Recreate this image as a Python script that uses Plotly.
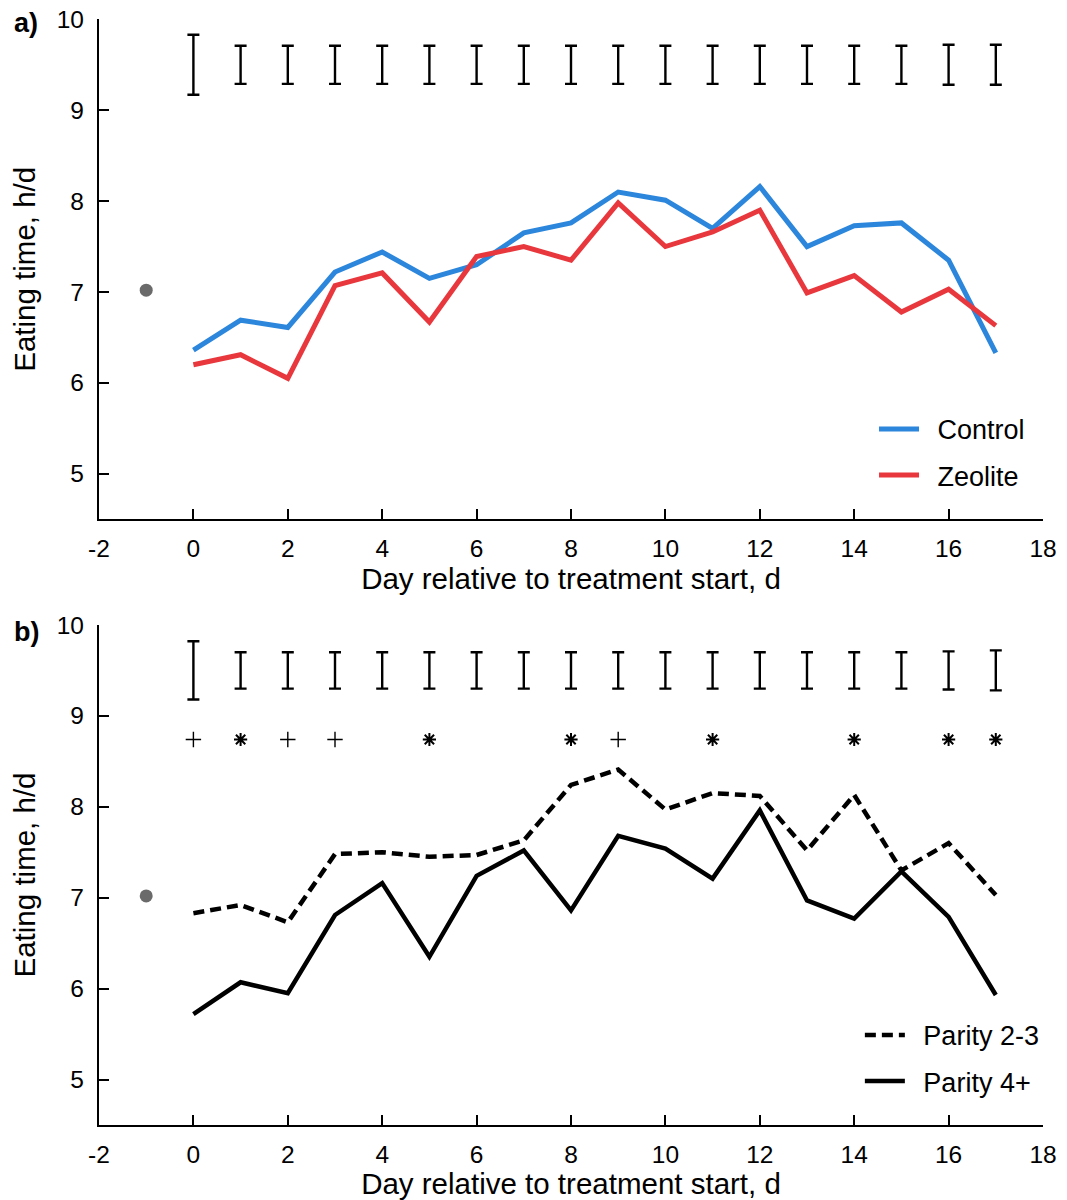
import plotly.graph_objects as go

# ---- data -------------------------------------------------------------
days = list(range(0, 18))

# panel a: treatment means (h/d)
control = [6.36, 6.69, 6.61, 7.22, 7.44, 7.15, 7.30, 7.65, 7.76, 8.10,
           8.01, 7.70, 8.16, 7.50, 7.73, 7.76, 7.35, 6.33]
zeolite = [6.20, 6.31, 6.05, 7.07, 7.21, 6.67, 7.39, 7.50, 7.35, 7.98,
           7.50, 7.66, 7.90, 6.99, 7.18, 6.78, 7.03, 6.63]

# panel b: parity group means (h/d)
parity_23 = [6.83, 6.92, 6.73, 7.48, 7.50, 7.45, 7.47, 7.63, 8.24, 8.41,
             7.97, 8.15, 8.12, 7.52, 8.13, 7.30, 7.60, 7.03]
parity_4p = [5.72, 6.07, 5.95, 6.81, 7.16, 6.35, 7.24, 7.52, 6.86, 7.68,
             7.54, 7.21, 7.96, 6.97, 6.77, 7.29, 6.79, 5.93]

# baseline (day -1) covariate mean
baseline_day = [-1]
baseline_val = [7.02]

# SEM bars drawn at a common reference height
sem_center = 9.5
sem_a = [0.33, 0.21, 0.21, 0.21, 0.21, 0.21, 0.21, 0.21, 0.21, 0.21,
         0.21, 0.21, 0.21, 0.21, 0.21, 0.21, 0.22, 0.22]
sem_b = [0.32, 0.20, 0.20, 0.20, 0.20, 0.20, 0.20, 0.20, 0.20, 0.20,
         0.20, 0.20, 0.20, 0.20, 0.20, 0.20, 0.21, 0.22]

# parity differences: * P < 0.05, + P < 0.10
sig_level = 8.74
sig_star_days = [1, 5, 8, 11, 14, 16, 17]
sig_trend_days = [0, 2, 3, 9]

x_ticks = list(range(-2, 19, 2))
x_tick_text = ["-2", "0", "2", "4", "6", "8", "10", "12", "14", "16", "18"]
y_ticks = [5, 6, 7, 8, 9, 10]

# ---- styling ----------------------------------------------------------
FONT = "Liberation Sans, Arial, sans-serif"
BLUE = "#2b86dc"
RED = "#e8383d"
GREY = "#6a6a6a"
SP = "\u2002"  # spacing between legend sample and label

fig = go.Figure()

def add_panel(xa, ya, legend, series, sem):
    for name, vals, color, dash, width in series:
        fig.add_trace(go.Scatter(
            x=days, y=vals, mode="lines", name=SP + name,
            line=dict(color=color, width=width, dash=dash),
            xaxis=xa, yaxis=ya, legend=legend, legendgroup=name,
        ))
    fig.add_trace(go.Scatter(
        x=baseline_day, y=baseline_val, mode="markers",
        marker=dict(color=GREY, size=13), showlegend=False,
        xaxis=xa, yaxis=ya,
    ))
    fig.add_trace(go.Scatter(
        x=days, y=[sem_center] * len(days), mode="markers",
        marker=dict(size=1, color="rgba(0,0,0,0)"),
        error_y=dict(type="data", array=sem, visible=True,
                     color="black", thickness=2.4, width=6),
        showlegend=False, xaxis=xa, yaxis=ya,
    ))

add_panel("x", "y", "legend",
          [("Control", control, BLUE, "solid", 5),
           ("Zeolite", zeolite, RED, "solid", 5)], sem_a)
add_panel("x2", "y2", "legend2",
          [("Parity 2-3", parity_23, "black", "11px,6px", 4.5),
           ("Parity 4+", parity_4p, "black", "solid", 4.5)], sem_b)

# significance marks in panel b
fig.add_trace(go.Scatter(
    x=sig_star_days, y=[sig_level] * len(sig_star_days), mode="markers",
    marker=dict(symbol="asterisk-open", size=11, color="black",
                line=dict(color="black", width=2)),
    showlegend=False, xaxis="x2", yaxis="y2",
))
fig.add_trace(go.Scatter(
    x=sig_trend_days, y=[sig_level] * len(sig_trend_days), mode="markers",
    marker=dict(symbol="cross-thin-open", size=11, color="black",
                line=dict(color="black", width=1.4)),
    showlegend=False, xaxis="x2", yaxis="y2",
))

axis_common = dict(
    showline=True, linecolor="black", linewidth=2.4,
    ticks="inside", ticklen=10, tickwidth=2.4, tickcolor="black",
    showgrid=False, zeroline=False, automargin=False,
    tickfont=dict(family=FONT, size=24.5, color="black"),
)

x_title = "Day relative to treatment start, d"
y_title = "Eating time, h/d"
TITLE_SIZE = 29.5

legend_common = dict(
    xanchor="left", yanchor="middle",
    font=dict(family=FONT, size=27, color="black"),
    bgcolor="rgba(0,0,0,0)", itemwidth=40, tracegroupgap=8,
    traceorder="grouped",
)

fig.update_layout(
    width=1067, height=1200,
    margin=dict(l=99, r=24, t=0, b=0, autoexpand=False),
    paper_bgcolor="white", plot_bgcolor="white",
    font=dict(family=FONT, color="black"),
    xaxis=dict(axis_common, domain=[0, 1], range=[-2, 18],
               tickvals=x_ticks, ticktext=x_tick_text, anchor="y",
               ticklabelstandoff=6,
               title=dict(text=x_title, font=dict(size=TITLE_SIZE), standoff=8)),
    yaxis=dict(axis_common, domain=[0.5673, 0.9839], range=[4.5, 10],
               tickvals=y_ticks, anchor="x", ticklabelstandoff=8,
               title=dict(text=y_title, font=dict(size=TITLE_SIZE), standoff=12)),
    xaxis2=dict(axis_common, domain=[0, 1], range=[-2, 18],
                tickvals=x_ticks, ticktext=x_tick_text, anchor="y2",
                ticklabelstandoff=6,
                title=dict(text=x_title, font=dict(size=TITLE_SIZE), standoff=8)),
    yaxis2=dict(axis_common, domain=[0.0625, 0.4792], range=[4.5, 10],
                tickvals=y_ticks, anchor="x2", ticklabelstandoff=8,
                title=dict(text=y_title, font=dict(size=TITLE_SIZE), standoff=12)),
    legend=dict(legend_common, x=0.821, y=0.623),
    legend2=dict(legend_common, x=0.806, y=0.118),
    annotations=[
        dict(text="<b>a)</b>", xref="paper", yref="paper", x=-0.077, y=0.981,
             xanchor="center", yanchor="middle", showarrow=False,
             font=dict(family=FONT, size=27, color="black")),
        dict(text="<b>b)</b>", xref="paper", yref="paper", x=-0.077, y=0.4735,
             xanchor="center", yanchor="middle", showarrow=False,
             font=dict(family=FONT, size=27, color="black")),
    ],
)

fig.write_html("out.html")
